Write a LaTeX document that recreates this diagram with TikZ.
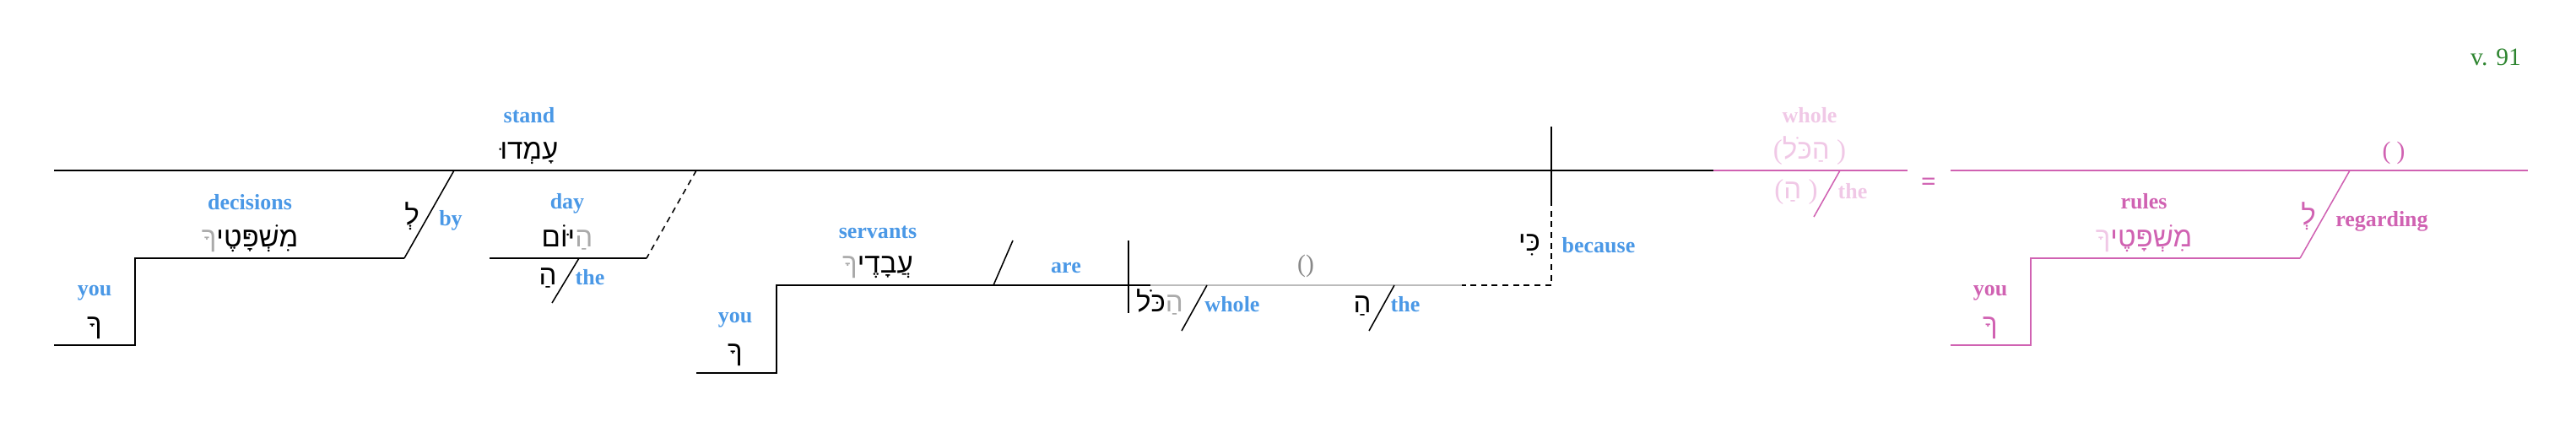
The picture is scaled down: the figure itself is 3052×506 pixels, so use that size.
\documentclass[tikz,border=0pt]{standalone}
\usepackage{fontspec}
\setmainfont{Liberation Serif}
\newfontfamily\heb[Script=Hebrew]{Liberation Sans}
\TeXXeTstate=1
\definecolor{lbl}{HTML}{4A98E6}
\definecolor{hgrey}{HTML}{AAAAAA}
\definecolor{pnk}{HTML}{D062B2}
\definecolor{lpnk}{HTML}{F0C8E6}
\definecolor{vgreen}{HTML}{2E8530}
\definecolor{gline}{HTML}{BBBBBB}
\definecolor{pgrey}{HTML}{888888}
\newcommand\hb[1]{{\heb\beginR #1\endR}}
\newcommand\rp[1]{{\rmfamily #1}}
\begin{document}
\begin{tikzpicture}[x=0.025cm,y=-0.025cm,
  en/.style={font=\fontsize{18.5}{22}\selectfont\bfseries, text=lbl, anchor=base, inner sep=0},
  he/.style={font=\fontsize{23.5}{26}\selectfont, anchor=base, inner sep=0},
  rg/.style={font=\fontsize{21}{24}\selectfont, anchor=base, inner sep=0},
  ln/.style={line width=1.4pt},
  sl/.style={line width=1.1pt},
  dsh/.style={line width=1.1pt, dash pattern=on 5pt off 4pt}]
\useasboundingbox (0,0) rectangle (3052,506);
% ---------- coordinates
\coordinate (m0) at (64,202);
\coordinate (m1) at (2030,202);
\coordinate (m2) at (2260,202);
\coordinate (p0) at (2311,202);
\coordinate (p1) at (2995,202);
\coordinate (byT) at (538,202);
\coordinate (byB) at (479,306);
\coordinate (decL) at (160,306);
\coordinate (you1T) at (160,409);
\coordinate (you1L) at (64,409);
\coordinate (dayT) at (825,202);
\coordinate (dayR) at (766,306);
\coordinate (dayL) at (580,306);
\coordinate (th1T) at (686,306);
\coordinate (th1B) at (654,359);
\coordinate (vT) at (1838,150);
\coordinate (vM) at (1838,237);
\coordinate (vB) at (1838,338);
\coordinate (gE) at (1732,338);
\coordinate (gS) at (1363,338);
\coordinate (srvL) at (920,338);
\coordinate (you2T) at (920,442);
\coordinate (you2L) at (825,442);
\coordinate (areB) at (1177,338);
\coordinate (areT) at (1200,285);
\coordinate (spT) at (1337,285);
\coordinate (spB) at (1337,371);
\coordinate (whT) at (1430,338);
\coordinate (whB) at (1400,392);
\coordinate (th2T) at (1652,338);
\coordinate (th2B) at (1622,392);
\coordinate (pthT) at (2180,202);
\coordinate (pthB) at (2149,257);
\coordinate (rgT) at (2784,202);
\coordinate (rgB) at (2725,306);
\coordinate (ruL) at (2406,306);
\coordinate (you3T) at (2406,409);
\coordinate (you3L) at (2311,409);
% ---------- lines
\draw[ln] (m0) -- (m1);
\draw[ln,pnk] (m1) -- (m2);
\draw[ln,pnk] (p0) -- (p1);
\draw[sl] (byT) -- (byB);
\draw[ln] (byB) -- (decL) -- (you1T) -- (you1L);
\draw[dsh] (dayT) -- (dayR);
\draw[ln] (dayR) -- (dayL);
\draw[sl] (th1T) -- (th1B);
\draw[sl] (vT) -- (vM);
\draw[dsh] (vM) -- (vB) -- (gE);
\draw[ln,gline] (gS) -- (gE);
\draw[ln] (you2L) -- (you2T) -- (srvL) -- (gS);
\draw[sl] (areB) -- (areT);
\draw[sl] (spT) -- (spB);
\draw[sl] (whT) -- (whB);
\draw[sl] (th2T) -- (th2B);
\draw[sl,pnk] (pthT) -- (pthB);
\draw[sl,pnk] (rgT) -- (rgB);
\draw[ln,pnk] (rgB) -- (ruL) -- (you3T) -- (you3L);
% ---------- texts
\node[en] (stand) at (627,145) {stand};
\node[he] (amdu) at (627,188) {\hb{עָמְדוּ}};
\node[en] (decisions) at (296,248) {decisions};
\node[he] (mishp) at (296,292) {{\color{hgrey}\hb{ךָ}}\hb{מִשְׁפָּטֶי}};
\node[he] (lamed) at (488,266) {\hb{לְ}};
\node[en] (by) at (534,267) {by};
\node[en] (you1) at (112,350) {you};
\node[he] (kaf1) at (112,395) {\hb{ךָ}};
\node[en] (day) at (672,247) {day};
\node[he] (hayom) at (672,292) {\hb{יּוֹם}{\color{hgrey}\hb{הַ}}};
\node[he] (ha1) at (649,337) {\hb{הַ}};
\node[en] (the1) at (699,337) {the};
\node[en] (servants) at (1040,282) {servants};
\node[he] (avad) at (1040,323) {{\color{hgrey}\hb{ךָ}}\hb{עֲבָדֶי}};
\node[en] (are) at (1263,323) {are};
\node[en] (you2) at (871,382) {you};
\node[he] (kaf2) at (871,427) {\hb{ךָ}};
\node[he] (hakol) at (1374,369) {\hb{כֹּל}{\color{hgrey}\hb{הַ}}};
\node[en] (whole1) at (1460,369) {whole};
\node[rg,text=pgrey] (paren1) at (1547,322) {()};
\node[he] (ha2) at (1614,370) {\hb{הַ}};
\node[en] (the2) at (1665,369) {the};
\node[he] (ki) at (1812,297) {\hb{כִּי}};
\node[en] (because) at (1894,299) {because};
% pink part
\node[en,text=lpnk] (wholeP) at (2144,145) {whole};
\node[he,text=lpnk] (hakolP) at (2144,188) {\rp{(}\hb{הַכֹּל}\rp{\ )}};
\node[he,text=lpnk] (haP) at (2128,235) {\rp{(}\hb{הַ}\rp{\ )}};
\node[en,text=lpnk] (theP) at (2195,235) {the};
\node[en,text=pnk,anchor=center,font=\fontsize{22}{24}\selectfont\bfseries] (eq) at (2285,218) {=};
\node[rg,text=pnk] (paren2) at (2836,188) {( )};
\node[en,text=pnk] (rules) at (2540,247) {rules};
\node[he,text=pnk] (mishpP) at (2540,292) {{\color{lpnk}\hb{ךָ}}\hb{מִשְׁפָּטֶי}};
\node[he,text=pnk] (lamedP) at (2735,266) {\hb{לְ}};
\node[en,text=pnk] (regarding) at (2822,268) {regarding};
\node[en,text=pnk] (you3) at (2358,350) {you};
\node[he,text=pnk] (kaf3) at (2358,395) {\hb{ךָ}};
\node[rg,text=vgreen] (verse) at (2957,77) {v. 91};
\end{tikzpicture}
\end{document}
